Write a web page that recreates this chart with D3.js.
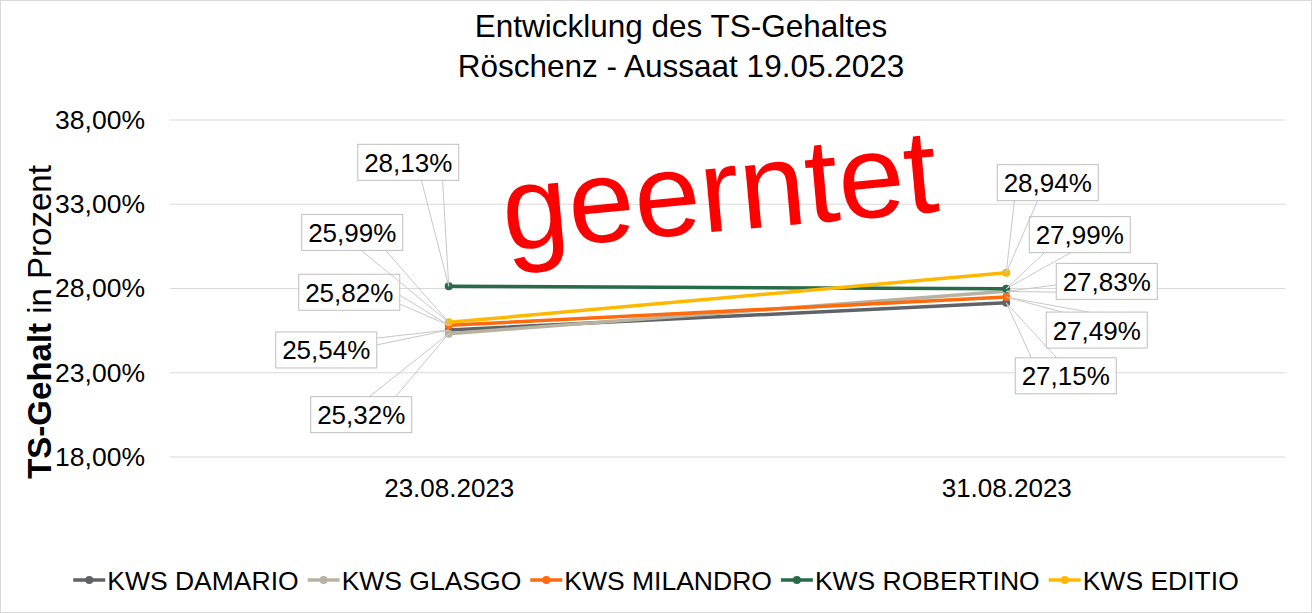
<!DOCTYPE html>
<html><head><meta charset="utf-8">
<script src="https://cdn.jsdelivr.net/npm/d3@7"></script>
<style>body{margin:0;background:#fff}text{font-family:Arial,"Liberation Sans",sans-serif}</style>
</head><body><svg id="c" width="1312" height="613"></svg>
<script>
const dates = ["23.08.2023", "31.08.2023"];
const seriesNames = ["KWS DAMARIO", "KWS GLASGO", "KWS MILANDRO", "KWS ROBERTINO", "KWS EDITIO"];
const damario = [0.2554, 0.2715];
const glasgo = [0.2532, 0.2783];
const milandro = [0.2582, 0.2749];
const robertino = [0.2813, 0.2799];
const editio = [0.2599, 0.2894];
const yTicks = [0.18, 0.23, 0.28, 0.33, 0.38];
const colors = ["#5f6369", "#b8b3a0", "#ff6a0d", "#276b48", "#ffb800"];
// label box layout: [dx, dy, side, f1, f2] per series per date
const labelLayout = [
  [[-173, 2, "right", 0.17, 0.36], [9, 55, "top", 0.16, 0.41]],
  [[-138, 63, "top", 0.58, 0.84], [50, -28, "left", 0.6, 0.8]],
  [[-150, -51, "right", 0.58, 0.83], [40, 15, "top", 0.16, 0.42]],
  [[-91, -142, "bottom", 0.63, 0.84], [23, -72, "bottom", 0.15, 0.41]],
  [[-147, -108, "bottom", 0.59, 0.83], [-9, -108, "bottom", 0.17, 0.4]]
];
const allValues = [damario, glasgo, milandro, robertino, editio];

const svg = d3.select("#c");
svg.append("rect").attr("x",0.5).attr("y",0.5).attr("width",1311).attr("height",612)
  .attr("fill","#fff").attr("stroke","#d9d9d9");

const x = d3.scalePoint().domain(dates).range([170, 1285]).padding(0.5);
const y = d3.scaleLinear().domain([0.18, 0.38]).range([457, 120]);
const fmt = v => d3.format(".2f")(v*100).replace(".", ",") + "%";

// gridlines
svg.append("g").selectAll("line").data(yTicks).join("line")
  .attr("x1",170).attr("x2",1285).attr("y1",d=>y(d)).attr("y2",d=>y(d))
  .attr("stroke","#d9d9d9").attr("stroke-width",1);

// y axis
const yAxis = svg.append("g").attr("transform","translate(170,0)")
  .call(d3.axisLeft(y).tickValues(yTicks).tickFormat(fmt).tickSize(0).tickPadding(25));
yAxis.select(".domain").remove();
yAxis.selectAll("text").attr("font-size",26.5).attr("fill","#000").attr("font-family","Arial, 'Liberation Sans', sans-serif");

// x axis
const xAxis = svg.append("g").attr("transform","translate(0,457)")
  .call(d3.axisBottom(x).tickSize(0).tickPadding(22));
xAxis.select(".domain").remove();
xAxis.selectAll("text").attr("font-size",26).attr("fill","#000").attr("font-family","Arial, 'Liberation Sans', sans-serif");

// title
const title = svg.append("text").attr("x",681).attr("text-anchor","middle").attr("font-size",31.5).attr("fill","#000");
title.append("tspan").attr("x",681).attr("y",37).text("Entwicklung des TS-Gehaltes");
title.append("tspan").attr("x",681).attr("y",77).text("Röschenz - Aussaat 19.05.2023");

// y axis title
const yt = svg.append("text").attr("transform","translate(51,322) rotate(-90)")
  .attr("text-anchor","middle").attr("font-size",33).attr("fill","#000");
yt.append("tspan").attr("font-weight","bold").text("TS-Gehalt");
yt.append("tspan").text(" in Prozent");

// lines
const line = d3.line().x((d,i)=>x(dates[i])).y(d=>y(d));
allValues.forEach((vals, s) => {
  svg.append("path").datum(vals).attr("d", line).attr("fill","none")
    .attr("stroke", colors[s]).attr("stroke-width",3.5).attr("stroke-linecap","round");
  svg.append("g").selectAll("circle").data(vals).join("circle")
    .attr("cx",(d,i)=>x(dates[i])).attr("cy",d=>y(d)).attr("r",4).attr("fill",colors[s]);
});

// "geerntet"
svg.append("text").attr("transform","translate(723,231) rotate(-5.2)")
  .attr("text-anchor","middle").attr("font-size",119).attr("fill","#ff0000").text("geerntet");

// data labels
const W = 101, H = 36;
const lbl = svg.append("g");
allValues.forEach((vals, s) => {
  vals.forEach((v, i) => {
    const px = x(dates[i]), py = y(v);
    const [dx, dy, side, f1, f2] = labelLayout[s][i];
    const bx = px + dx, by = py + dy;
    let a1, a2;
    if (side === "bottom") { a1 = [bx + W*f1, by + H]; a2 = [bx + W*f2, by + H]; }
    else if (side === "top") { a1 = [bx + W*f1, by]; a2 = [bx + W*f2, by]; }
    else if (side === "right") { a1 = [bx + W, by + H*f1]; a2 = [bx + W, by + H*f2]; }
    else { a1 = [bx, by + H*f1]; a2 = [bx, by + H*f2]; }
    lbl.append("path").attr("d", `M${a1[0]},${a1[1]}L${px},${py}L${a2[0]},${a2[1]}`)
      .attr("fill","none").attr("stroke","#c8c8c8").attr("stroke-width",1);
    lbl.append("rect").attr("x",bx).attr("y",by).attr("width",W).attr("height",H)
      .attr("fill","#fff").attr("stroke","#bfbfbf").attr("stroke-width",1);
    lbl.append("text").attr("x",bx+W/2).attr("y",by+H/2+9.5).attr("text-anchor","middle")
      .attr("font-size",26).attr("fill","#000").text(fmt(v));
  });
});

// legend
const lg = svg.append("g");
const items = [];
seriesNames.forEach((name, s) => {
  const g = lg.append("g");
  g.append("line").attr("x1",0).attr("x2",32).attr("y1",0).attr("y2",0)
    .attr("stroke",colors[s]).attr("stroke-width",3.5);
  g.append("circle").attr("cx",16).attr("cy",0).attr("r",4).attr("fill",colors[s]);
  const t = g.append("text").attr("x",34).attr("y",9.6).attr("font-size",26.5).attr("fill","#000").text(name);
  const w = 34 + t.node().getComputedTextLength();
  items.push({g, w});
});
const gap = 9;
const total = d3.sum(items, d=>d.w) + gap*(items.length-1);
let start = 656 - total/2;
items.forEach(it => { it.g.attr("transform",`translate(${start},580)`); start += it.w + gap; });
</script></body></html>
